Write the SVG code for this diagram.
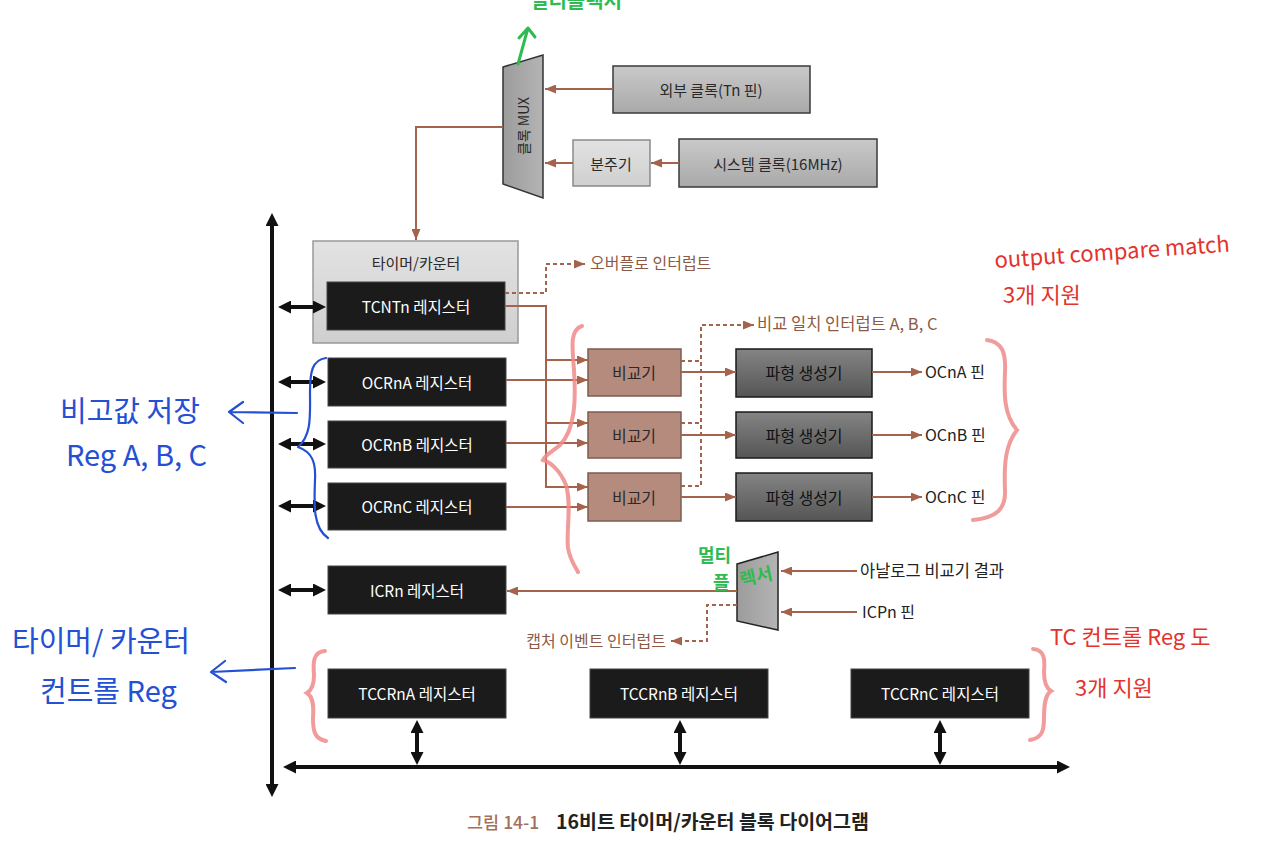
<svg xmlns="http://www.w3.org/2000/svg" width="1280" height="846" viewBox="0 0 1280 846">
<defs>
<style>
text{font-family:"Noto Sans CJK KR","Noto Sans",sans-serif}
.lbl{font-size:15px;fill:#2a2a2a;text-anchor:middle;dominant-baseline:central}
.wl{font-size:15.5px;fill:#ffffff;text-anchor:middle;dominant-baseline:central}
.pin{font-size:16px;fill:#222}
.int{font-size:16px;fill:#8e5a45}
.br{fill:none;stroke:#a3634c;stroke-width:2}
.dash{fill:none;stroke:#a3634c;stroke-width:2;stroke-dasharray:4 3}
.bus{fill:none;stroke:#111;stroke-width:4}
.reg{fill:#1b1b1b;stroke:#444;stroke-width:1}
.cmp{fill:#b48b7d;stroke:#7d5c50;stroke-width:1.5}
.wave{fill:url(#gWave);stroke:#1a1a1a;stroke-width:1.5}
.gbox{fill:url(#gGray);stroke:#3a3a3a;stroke-width:1.5}
.blue{fill:#2350d4;font-size:29px}
.bline{fill:none;stroke:#2350d4;stroke-width:2.2;stroke-linecap:round;stroke-linejoin:round}
.red{fill:#e2342c;font-size:22px}
.rbrace{fill:none;stroke:#ee8a8a;stroke-width:4;stroke-linecap:round;opacity:0.85}
.green{fill:#2fbb4f;font-size:18px;font-weight:700}
.gline{fill:none;stroke:#2fbb4f;stroke-width:3;stroke-linecap:round;stroke-linejoin:round}
</style>
<linearGradient id="gGray" x1="0" y1="0" x2="0" y2="1"><stop offset="0" stop-color="#c9c9c9"/><stop offset="1" stop-color="#a9a9a9"/></linearGradient>
<linearGradient id="gLight" x1="0" y1="0" x2="0" y2="1"><stop offset="0" stop-color="#e2e2e2"/><stop offset="1" stop-color="#cfcfcf"/></linearGradient>
<linearGradient id="gWave" x1="0" y1="0" x2="0" y2="1"><stop offset="0" stop-color="#848484"/><stop offset="1" stop-color="#555555"/></linearGradient>
<linearGradient id="gMux" x1="0" y1="0" x2="1" y2="0"><stop offset="0" stop-color="#9c9c9c"/><stop offset="1" stop-color="#b4b4b4"/></linearGradient>
<marker id="ab" markerUnits="userSpaceOnUse" markerWidth="11" markerHeight="9" refX="11" refY="4.5" orient="auto-start-reverse"><path d="M0,0 L11,4.5 L0,9 z" fill="#a3634c"/></marker>
<marker id="ak" markerUnits="userSpaceOnUse" markerWidth="13" markerHeight="13" refX="3" refY="6.5" orient="auto-start-reverse"><path d="M0,0 L13,6.5 L0,13 z" fill="#111"/></marker>
</defs>
<rect width="1280" height="846" fill="#ffffff"/>

<!-- clock section -->
<g id="mux-clock">
<path d="M503,67 L543,55 L543,198 L503,184 z" fill="url(#gMux)" stroke="#333" stroke-width="1.5"/>
<text class="lbl" transform="translate(523,126) rotate(-90)" style="font-size:14px">클록 MUX</text>
</g>
<g id="ext-clock">
<rect class="gbox" x="613" y="66" width="197" height="47"/>
<text class="lbl" x="711" y="89">외부 클록(Tn 핀)</text>
</g>
<g id="prescaler">
<rect x="573" y="140" width="77" height="46" fill="url(#gLight)" stroke="#8a8a8a" stroke-width="1.5"/>
<text class="lbl" x="611" y="163">분주기</text>
</g>
<g id="sys-clock">
<rect class="gbox" x="679" y="139" width="198" height="48"/>
<text class="lbl" x="778" y="163">시스템 클록(16MHz)</text>
</g>

<!-- timer/counter -->
<g id="timer-counter">
<rect x="313" y="241" width="205" height="102" fill="url(#gLight)" stroke="#999" stroke-width="1.5"/>
<text class="lbl" x="416" y="262">타이머/카운터</text>
</g>
<g id="tcnt">
<rect class="reg" x="327" y="282" width="178" height="48"/>
<text class="wl" x="416" y="306">TCNTn 레지스터</text>
</g>
<g id="ovf"><text class="int" x="590" y="269">오버플로 인터럽트</text></g>

<g id="ocra"><rect class="reg" x="328" y="358" width="178" height="48"/><text class="wl" x="417" y="382">OCRnA 레지스터</text></g>
<g id="ocrb"><rect class="reg" x="328" y="421" width="178" height="47"/><text class="wl" x="417" y="444">OCRnB 레지스터</text></g>
<g id="ocrc"><rect class="reg" x="328" y="483" width="178" height="47"/><text class="wl" x="417" y="506">OCRnC 레지스터</text></g>

<g id="cmpa"><rect class="cmp" x="588" y="349" width="93" height="47"/><text class="lbl" x="634" y="372" style="font-size:16px">비교기</text></g>
<g id="cmpb"><rect class="cmp" x="588" y="412" width="93" height="46"/><text class="lbl" x="634" y="435" style="font-size:16px">비교기</text></g>
<g id="cmpc"><rect class="cmp" x="588" y="473" width="93" height="48"/><text class="lbl" x="634" y="497" style="font-size:16px">비교기</text></g>

<g id="cmp-int"><text class="int" x="757" y="330" style="font-size:16.5px">비교 일치 인터럽트 A, B, C</text></g>

<g id="wga"><rect class="wave" x="736" y="349" width="136" height="48"/><text class="lbl" x="804" y="372" style="fill:#111;font-size:16px">파형 생성기</text></g>
<g id="wgb"><rect class="wave" x="736" y="412" width="136" height="46"/><text class="lbl" x="804" y="435" style="fill:#111;font-size:16px">파형 생성기</text></g>
<g id="wgc"><rect class="wave" x="736" y="473" width="136" height="48"/><text class="lbl" x="804" y="497" style="fill:#111;font-size:16px">파형 생성기</text></g>

<g id="pina"><text class="pin" x="925" y="378">OCnA 핀</text></g>
<g id="pinb"><text class="pin" x="925" y="441">OCnB 핀</text></g>
<g id="pinc"><text class="pin" x="925" y="503">OCnC 핀</text></g>

<g id="icr"><rect class="reg" x="328" y="566" width="178" height="48"/><text class="wl" x="417" y="590">ICRn 레지스터</text></g>
<g id="cap-mux"><path d="M737,564 L778,552 L778,630 L737,621 z" fill="url(#gMux)" stroke="#222" stroke-width="1.5"/></g>
<g id="analog"><text class="pin" x="860" y="577" style="font-size:16.5px">아날로그 비교기 결과</text></g>
<g id="icp"><text class="pin" x="862" y="618">ICPn 핀</text></g>
<g id="cap-int"><text class="int" x="666" y="647" text-anchor="end">캡처 이벤트 인터럽트</text></g>

<g id="tccra"><rect class="reg" x="328" y="669" width="178" height="49"/><text class="wl" x="417" y="693">TCCRnA 레지스터</text></g>
<g id="tccrb"><rect class="reg" x="590" y="669" width="178" height="49"/><text class="wl" x="679" y="693">TCCRnB 레지스터</text></g>
<g id="tccrc"><rect class="reg" x="851" y="669" width="178" height="49"/><text class="wl" x="940" y="693">TCCRnC 레지스터</text></g>

<g id="caption">
<text x="467" y="829" style="font-size:17.5px;fill:#a5705b;font-weight:500">그림 14-1</text>
<text x="556" y="829" style="font-size:19.5px;fill:#222;font-weight:700">16비트 타이머/카운터 블록 다이어그램</text>
</g>

<!-- connectors -->
<g id="connectors">
<path class="bus" d="M272,223 L272,787" marker-start="url(#ak)" marker-end="url(#ak)"/>
<path class="bus" d="M293,767 L1060,767" marker-start="url(#ak)" marker-end="url(#ak)"/>
<path class="bus" d="M288,307 L316,307" marker-start="url(#ak)" marker-end="url(#ak)"/>
<path class="bus" d="M288,382 L316,382" marker-start="url(#ak)" marker-end="url(#ak)"/>
<path class="bus" d="M288,444 L316,444" marker-start="url(#ak)" marker-end="url(#ak)"/>
<path class="bus" d="M288,506 L316,506" marker-start="url(#ak)" marker-end="url(#ak)"/>
<path class="bus" d="M288,590 L316,590" marker-start="url(#ak)" marker-end="url(#ak)"/>
<path class="bus" d="M417,730 L417,755" marker-start="url(#ak)" marker-end="url(#ak)"/>
<path class="bus" d="M680,730 L680,755" marker-start="url(#ak)" marker-end="url(#ak)"/>
<path class="bus" d="M940,730 L940,755" marker-start="url(#ak)" marker-end="url(#ak)"/>

<path class="br" d="M613,89 L545,89" marker-end="url(#ab)"/>
<path class="br" d="M679,163 L651,163" marker-end="url(#ab)"/>
<path class="br" d="M573,163 L545,163" marker-end="url(#ab)"/>
<path class="br" d="M503,127 L416,127 L416,240" marker-end="url(#ab)"/>

<path class="dash" d="M505,293 L546,293 L546,264 L585,264" marker-end="url(#ab)"/>
<path class="br" d="M505,306 L546,306 L546,487 L588,487" marker-end="url(#ab)"/>
<path class="br" d="M546,360 L588,360" marker-end="url(#ab)"/>
<path class="br" d="M546,423 L588,423" marker-end="url(#ab)"/>
<path class="br" d="M506,380 L588,380" marker-end="url(#ab)"/>
<path class="br" d="M506,443 L588,443" marker-end="url(#ab)"/>
<path class="br" d="M506,507 L588,507" marker-end="url(#ab)"/>

<path class="br" d="M681,372 L736,372" marker-end="url(#ab)"/>
<path class="br" d="M681,435 L736,435" marker-end="url(#ab)"/>
<path class="br" d="M681,497 L736,497" marker-end="url(#ab)"/>
<path class="br" d="M872,372 L922,372" marker-end="url(#ab)"/>
<path class="br" d="M872,435 L922,435" marker-end="url(#ab)"/>
<path class="br" d="M872,497 L922,497" marker-end="url(#ab)"/>

<path class="dash" d="M681,361 L701,361"/>
<path class="dash" d="M681,423 L701,423"/>
<path class="dash" d="M681,486 L701,486 L701,325 L754,325" marker-end="url(#ab)"/>

<path class="br" d="M857,571 L781,571" marker-end="url(#ab)"/>
<path class="br" d="M857,612 L781,612" marker-end="url(#ab)"/>
<path class="br" d="M737,591 L507,591" marker-end="url(#ab)"/>
<path class="dash" d="M737,605 L707,605 L707,641 L671,641" marker-end="url(#ab)"/>
</g>

<!-- handwritten annotations -->
<g id="red-braces">
<path class="rbrace" d="M582,326 C570,330 572,345 574,370 C576,400 575,430 560,445 C552,452 545,455 543,460 C550,462 560,470 566,485 C572,505 566,530 568,548 C570,560 575,566 578,572"/>
<path class="rbrace" d="M987,340 C1002,342 1006,352 1005,372 C1004,395 1004,415 1017,430 C1005,445 1004,465 1005,490 C1006,510 995,518 973,520"/>
<path class="rbrace" d="M325,651 C313,652 313,662 314,675 C314,685 312,690 307,693 C313,697 314,705 313,718 C313,732 315,739 326,741"/>
<path class="rbrace" d="M1033,649 C1045,650 1045,660 1044,672 C1044,683 1046,688 1051,691 C1045,695 1044,705 1044,718 C1044,731 1042,738 1030,740"/>
</g>
<g id="blue-notes">
<path class="bline" d="M326,358 C312,360 310,372 310,392 C310,415 312,435 298,447 C312,452 316,462 315,480 C314,505 313,528 328,538"/>
<path class="bline" d="M297,413 L229,412 M243,402 L229,412 L243,423"/>
<text class="blue" x="60" y="422">비고값 저장</text>
<text class="blue" x="66" y="466">Reg A, B, C</text>
<path class="bline" d="M295,668 L211,672 M225,661 L211,672 L226,682"/>
<text class="blue" x="12" y="652">타이머/ 카운터</text>
<text class="blue" x="40" y="702">컨트롤 Reg</text>
</g>
<g id="red-notes">
<text class="red" x="995" y="268" transform="rotate(-4 995 268)">output compare match</text>
<text class="red" x="1003" y="303">3개 지원</text>
<text class="red" x="1050" y="645">TC 컨트롤 Reg 도</text>
<text class="red" x="1075" y="696">3개 지원</text>
</g>
<g id="green-notes">
<path class="gline" d="M518,64 L528,28 M519,38 L528,28 L535,37"/>
<text class="green" x="530" y="8" style="font-size:20px">멀티플렉서</text>
<text class="green" x="698" y="562">멀티</text>
<text class="green" x="713" y="589">플</text>
<text class="green" x="741" y="586" transform="rotate(-12 741 586)">렉서</text>
</g>
</svg>
